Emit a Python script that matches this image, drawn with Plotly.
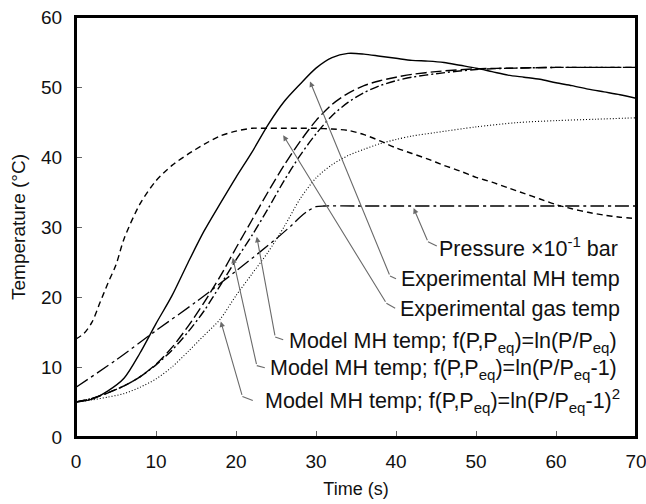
import plotly.graph_objects as go

# ---------------- data ----------------
t_exp_mh = [0, 2, 4, 6, 8, 10, 12, 14, 16, 18, 20, 22, 24, 26, 28, 30, 32, 34, 36, 38, 40, 42, 44, 46, 48, 50, 52, 54, 56, 58, 60, 62, 64, 66, 68, 70]
T_exp_mh = [5, 5.4, 6.6, 8.4, 12.0, 16.2, 20.2, 24.9, 29.4, 33.3, 37.1, 40.7, 44.6, 47.9, 50.4, 52.7, 54.2, 54.8, 54.7, 54.4, 54.1, 53.8, 53.7, 53.5, 53.1, 52.7, 52.2, 51.7, 51.4, 51.1, 50.6, 50.2, 49.7, 49.3, 48.9, 48.4]

t_exp_gas = [0, 1, 2, 3, 4, 5, 6, 8, 10, 12, 14, 16, 18, 20, 22, 24, 26, 28, 30, 32, 34, 36, 38, 40, 42, 44, 46, 48, 50, 52, 54, 56, 58, 60, 62, 64, 66, 68, 70]
T_exp_gas = [14, 14.8, 16.4, 19.2, 22.0, 24.6, 28.3, 33.3, 36.6, 38.8, 40.4, 41.8, 43.0, 43.7, 44.1, 44.1, 44.1, 44.1, 44.1, 44.0, 43.8, 43.2, 42.3, 41.3, 40.5, 39.7, 38.8, 38.0, 37.1, 36.4, 35.6, 34.8, 34.0, 33.2, 32.6, 32.1, 31.7, 31.4, 31.2]

t_press = [0, 5, 10, 15, 20, 25, 27, 28, 29, 30, 31, 35, 40, 45, 50, 55, 60, 65, 70]
T_press = [7.1, 11.0, 15.2, 19.3, 23.7, 28.3, 30.3, 31.4, 32.3, 32.9, 33.0, 33.0, 33.0, 33.0, 33.0, 33.0, 33.0, 33.0, 33.0]

t_model = [0, 2, 4, 6, 8, 10, 12, 14, 16, 18, 20, 22, 24, 26, 28, 30, 32, 34, 36, 38, 40, 42, 45, 50, 55, 60, 65, 70]
T_model1 = [5, 5.5, 6.3, 7.3, 8.6, 10.4, 12.8, 15.8, 19.2, 22.9, 27.0, 31.0, 35.0, 38.8, 42.2, 45.2, 47.5, 49.1, 50.2, 50.9, 51.4, 51.8, 52.2, 52.6, 52.7, 52.8, 52.8, 52.8]
T_model2 = [5, 5.5, 6.3, 7.3, 8.6, 10.3, 12.4, 15.0, 18.0, 21.6, 25.3, 28.8, 32.6, 36.6, 40.2, 43.3, 45.9, 47.8, 49.2, 50.2, 50.9, 51.4, 51.9, 52.5, 52.7, 52.8, 52.8, 52.8]
T_model3 = [5, 5.3, 5.7, 6.2, 7.1, 8.3, 10.0, 12.2, 14.5, 16.8, 20.2, 23.3, 26.4, 30.0, 34.0, 37.0, 38.9, 40.2, 41.1, 41.9, 42.5, 43.0, 43.5, 44.3, 44.9, 45.2, 45.4, 45.6]

x_ticks = [0, 10, 20, 30, 40, 50, 60, 70]
y_ticks = [0, 10, 20, 30, 40, 50, 60]

# label texts and leader geometry (data units): text right x, text center y,
# arrow tip, leader corner, hook end
labels = [
    "Pressure ×10<sup>-1</sup> bar",
    "Experimental MH temp",
    "Experimental gas temp",
    "Model MH temp; f(P,P<sub>eq</sub>)=ln(P/P<sub>eq</sub>)",
    "Model MH temp; f(P,P<sub>eq</sub>)=ln(P/P<sub>eq</sub>-1)",
    "Model MH temp; f(P,P<sub>eq</sub>)=ln(P/P<sub>eq</sub>-1)<sup>2</sup>",
]
label_x = [68.0, 68.2, 68.2, 67.9, 67.9, 68.3]
label_y = [27.1, 22.6, 18.3, 13.5, 9.6, 5.2]
tip_x = [42.2, 29.25, 25.9, 22.6, 19.6, 18.1]
tip_y = [32.7, 50.8, 43.1, 28.6, 25.6, 16.5]
corner_x = [44.0, 39.25, 38.8, 24.9, 22.6, 20.8]
corner_y = [27.9, 23.0, 19.1, 14.3, 10.2, 5.8]
hook_x = [45.1, 40.0, 39.9, 25.9, 23.6, 22.1]
hook_y = [27.3, 22.6, 18.4, 13.9, 9.9, 5.2]

# ---------------- figure ----------------
fig = go.Figure()

def add_line(x, y, dash, width=1.4, shape="spline"):
    fig.add_trace(go.Scatter(
        x=x, y=y, mode="lines",
        line=dict(color="black", width=width, dash=dash, shape=shape, smoothing=0.8),
        showlegend=False, hoverinfo="skip"))

add_line(t_press, T_press, "14px,4px,3px,4px", 1.3)
add_line(t_exp_gas, T_exp_gas, "6px,4px", 1.4)
add_line(t_model, T_model3, "1px,2px", 1.1)
add_line(t_model, T_model2, "9px,3px,2px,3px", 1.4)
add_line(t_model, T_model1, "11px,4px", 1.4)
add_line(t_exp_mh, T_exp_mh, "solid", 1.4)

font_family = "Liberation Sans, Arial, sans-serif"
lead_col = "#6a6a6a"

for i, txt in enumerate(labels):
    fig.add_annotation(x=label_x[i], y=label_y[i], xref="x", yref="y",
                       text=txt, showarrow=False, xanchor="right", yanchor="middle",
                       font=dict(family=font_family, size=21.5, color="#111"))
    fig.add_annotation(x=tip_x[i], y=tip_y[i], xref="x", yref="y",
                       ax=corner_x[i], ay=corner_y[i], axref="x", ayref="y",
                       text="", showarrow=True, arrowhead=2, arrowsize=1.0,
                       arrowwidth=1.1, arrowcolor=lead_col)
    fig.add_shape(type="line", xref="x", yref="y",
                  x0=corner_x[i], y0=corner_y[i], x1=hook_x[i], y1=hook_y[i],
                  line=dict(color=lead_col, width=1.1))

# plot frame
fig.add_shape(type="rect", xref="paper", yref="paper", x0=0, y0=0, x1=1, y1=1,
              line=dict(color="black", width=2), layer="above")

axis_common = dict(
    showline=True, linecolor="black", linewidth=2, mirror=True,
    showgrid=False, zeroline=False, automargin=False,
    ticks="inside", ticklen=6, tickwidth=1, tickcolor="#666",
    ticklabeloverflow="allow",
    tickfont=dict(family=font_family, size=19, color="#111"),
)

fig.update_xaxes(range=[0, 70], tickvals=x_ticks, ticklabelstandoff=6,
                 title=dict(text="Time (s)", font=dict(family=font_family, size=18, color="#111"), standoff=12),
                 **axis_common)
fig.update_yaxes(range=[0, 60], tickvals=y_ticks, ticklabelstandoff=8,
                 title=dict(text="Temperature (°C)", font=dict(family=font_family, size=19, color="#111"), standoff=10),
                 **axis_common)

fig.update_layout(
    width=646, height=504,
    margin=dict(l=76, r=10, t=17, b=67),
    paper_bgcolor="white", plot_bgcolor="white",
    showlegend=False,
)

# remove the page's default body margin so the figure sits at the window origin
fig.write_html("out.html", config={"displayModeBar": False},
               post_script="document.body.style.margin='0';document.body.style.overflow='hidden';")
